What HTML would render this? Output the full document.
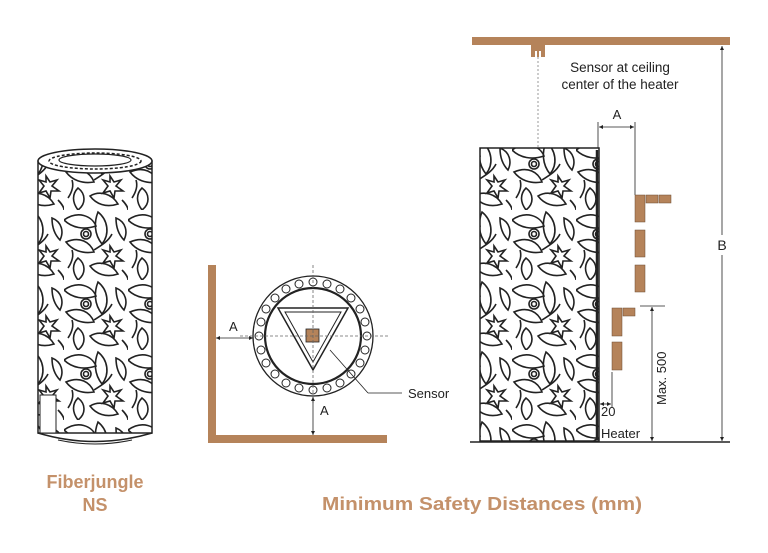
<!DOCTYPE html>
<html><head><meta charset="utf-8"><style>
html,body{margin:0;padding:0;background:#fff;width:768px;height:553px;overflow:hidden}
svg{display:block}
text{font-family:"Liberation Sans",sans-serif}
</style></head><body>
<svg width="768" height="553" viewBox="0 0 768 553" xmlns="http://www.w3.org/2000/svg">
<defs>
<pattern id="leaf" width="64" height="70" patternUnits="userSpaceOnUse">
<g fill="none" stroke="#222" stroke-width="1.6">
<path d="M0 10 C14 0 28 6 32 16 C20 20 8 18 0 10Z"/>
<path d="M34 2 C44 10 46 24 38 34 C30 24 30 12 34 2Z"/>
<path d="M46 36 L50 42 L57 40 L52 46 L59 51 L51 51 L50 58 L46 51 L39 53 L44 46 L39 40 L46 42Z"/>
<path d="M2 32 C16 26 26 32 30 42 C18 44 8 40 2 32Z"/>
<path d="M14 48 C22 54 22 64 14 70 C8 62 8 54 14 48Z"/>
<path d="M26 56 C36 50 48 54 54 64 C42 68 32 64 26 56Z"/>
<circle cx="22" cy="24" r="5"/><circle cx="22" cy="24" r="2.5"/>
<path d="M52 8 C62 12 64 22 60 30 C54 24 52 16 52 8Z"/>
<path d="M30 40 C36 36 44 32 48 24"/>
<path d="M4 58 C8 52 10 46 8 40"/>
<path d="M58 60 C62 64 64 68 64 70"/>
</g>
</pattern>
<marker id="ar" markerWidth="6" markerHeight="6" refX="5" refY="3" orient="auto-start-reverse"><path d="M0 0.5 L5 3 L0 5.5Z" fill="#222"/></marker>
</defs>

<!-- Left heater -->
<rect x="38" y="161" width="114" height="272" fill="url(#leaf)" stroke="#222" stroke-width="1.5"/>
<ellipse cx="95" cy="161" rx="57" ry="12" fill="#fff" stroke="#222" stroke-width="1.5"/>
<ellipse cx="95" cy="161" rx="46" ry="8" fill="#fff" stroke="#222" stroke-width="1.5" stroke-dasharray="3 2"/>
<ellipse cx="95" cy="160" rx="36" ry="6" fill="none" stroke="#222" stroke-width="1.2"/>
<path d="M38 433 Q95 450 152 433" fill="none" stroke="#222" stroke-width="1.5"/>
<path d="M58 440 Q95 448 132 440" fill="none" stroke="#222" stroke-width="1"/>
<rect x="40" y="395" width="16" height="38" fill="#fff" stroke="#222" stroke-width="1"/>
<text x="95" y="488" font-size="18" font-weight="bold" fill="#c4916a" text-anchor="middle">Fiberjungle</text>
<text x="95" y="511" font-size="18" font-weight="bold" fill="#c4916a" text-anchor="middle">NS</text>

<!-- Middle top view -->
<rect x="208" y="265" width="8" height="178" fill="#b5835a"/>
<rect x="208" y="435" width="179" height="8" fill="#b5835a"/>
<circle cx="313" cy="336" r="60" fill="#fff" stroke="#222" stroke-width="1.3"/>
<circle cx="313" cy="336" r="48" fill="none" stroke="#222" stroke-width="2.2"/>
<g fill="none" stroke="#222" stroke-width="1">
<circle cx="313" cy="282" r="4"/><circle cx="313" cy="390" r="4"/><circle cx="259" cy="336" r="4"/><circle cx="367" cy="336" r="4"/>
<circle cx="340" cy="289" r="4"/><circle cx="286" cy="289" r="4"/><circle cx="340" cy="383" r="4"/><circle cx="286" cy="383" r="4"/>
<circle cx="360" cy="309" r="4"/><circle cx="266" cy="309" r="4"/><circle cx="360" cy="363" r="4"/><circle cx="266" cy="363" r="4"/>
<circle cx="327" cy="284" r="4"/><circle cx="299" cy="284" r="4"/><circle cx="327" cy="388" r="4"/><circle cx="299" cy="388" r="4"/>
<circle cx="351" cy="298" r="4"/><circle cx="275" cy="298" r="4"/><circle cx="351" cy="374" r="4"/><circle cx="275" cy="374" r="4"/>
<circle cx="365" cy="322" r="4"/><circle cx="261" cy="322" r="4"/><circle cx="365" cy="350" r="4"/><circle cx="261" cy="350" r="4"/>
<path d="M278 308 L348 308 L313 370 Z" stroke-width="1.5"/>
<path d="M285 312 L341 312 L313 362 Z"/>
</g>
<rect x="306" y="329" width="13" height="13" fill="#b5835a" stroke="#222" stroke-width="0.8"/>
<g stroke="#666" stroke-width="0.8" stroke-dasharray="3 2">
<line x1="313" y1="265" x2="313" y2="405"/><line x1="240" y1="336" x2="388" y2="336"/>
</g>
<g stroke="#222" stroke-width="0.8" fill="none">
<line x1="216" y1="338" x2="253" y2="338" marker-start="url(#ar)" marker-end="url(#ar)"/>
<line x1="313" y1="397" x2="313" y2="435" marker-start="url(#ar)" marker-end="url(#ar)"/>
<line x1="330" y1="350" x2="368" y2="393"/><line x1="368" y1="393" x2="402" y2="393"/>
</g>
<text x="229" y="331" font-size="13" fill="#222">A</text>
<text x="320" y="415" font-size="13" fill="#222">A</text>
<text x="408" y="398" font-size="13" fill="#222">Sensor</text>

<!-- Right side view -->
<rect x="472" y="37" width="258" height="8" fill="#b5835a"/>
<path d="M531 45 H545 V57 H541 V51 H539 V57 H537 V51 H535 V57 H531Z" fill="#b5835a"/>
<line x1="538" y1="57" x2="538" y2="148" stroke="#999" stroke-width="1" stroke-dasharray="2 2"/>
<text x="620" y="72" font-size="13.5" fill="#222" text-anchor="middle">Sensor at ceiling</text>
<text x="620" y="89" font-size="13.5" fill="#222" text-anchor="middle">center of the heater</text>
<rect x="480" y="148" width="119" height="293" fill="url(#leaf)" stroke="#222" stroke-width="1.5"/>
<line x1="597" y1="150" x2="597" y2="440" stroke="#222" stroke-width="2.5"/>
<line x1="470" y1="442" x2="730" y2="442" stroke="#222" stroke-width="1.5"/>
<g stroke="#222" stroke-width="0.8">
<line x1="722" y1="46" x2="722" y2="441" marker-start="url(#ar)" marker-end="url(#ar)"/>
<line x1="598" y1="122" x2="598" y2="148"/><line x1="635" y1="122" x2="635" y2="195"/>
<line x1="599" y1="127" x2="634" y2="127" marker-start="url(#ar)" marker-end="url(#ar)"/>
<line x1="640" y1="306" x2="665" y2="306"/><line x1="652" y1="307" x2="652" y2="441" marker-start="url(#ar)" marker-end="url(#ar)"/>
<line x1="612" y1="372" x2="612" y2="408"/><line x1="600" y1="404" x2="611" y2="404" marker-start="url(#ar)" marker-end="url(#ar)"/>
</g>
<rect x="714" y="235" width="16" height="20" fill="#fff"/>
<text x="722" y="250" font-size="14" fill="#222" text-anchor="middle">B</text>
<text x="617" y="119" font-size="13" fill="#222" text-anchor="middle">A</text>
<g fill="#b5835a" stroke="#6b4a30" stroke-width="0.5">
<rect x="635" y="195" width="10" height="27"/><rect x="635" y="230" width="10" height="27"/><rect x="635" y="265" width="10" height="27"/>
<rect x="646" y="195" width="12" height="8"/><rect x="659" y="195" width="12" height="8"/>
<rect x="612" y="308" width="10" height="28"/><rect x="612" y="342" width="10" height="28"/>
<rect x="623" y="308" width="12" height="8"/>
</g>
<text transform="translate(666,405) rotate(-90)" font-size="13" fill="#222">Max. 500</text>
<text x="601" y="416" font-size="13" fill="#222">20</text>
<text x="601" y="438" font-size="13" fill="#222">Heater</text>

<text x="482" y="510" font-size="18" font-weight="bold" fill="#c4916a" text-anchor="middle" textLength="320" lengthAdjust="spacingAndGlyphs">Minimum Safety Distances (mm)</text>
</svg>
</body></html>
